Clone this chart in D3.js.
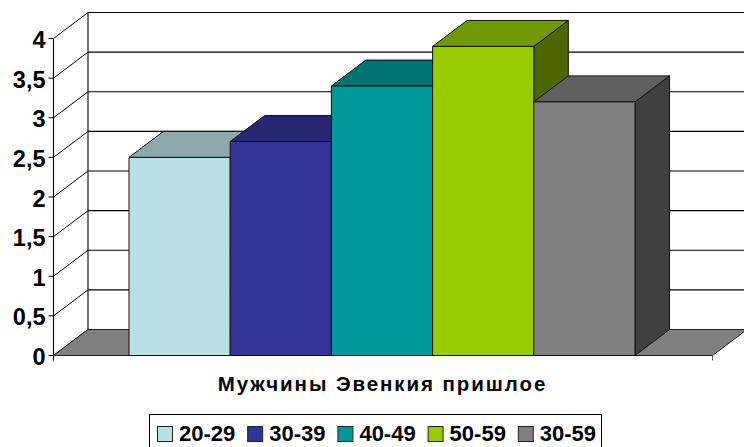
<!DOCTYPE html>
<html><head><meta charset="utf-8">
<script src="https://cdn.jsdelivr.net/npm/d3@7"></script>
<style>html,body{margin:0;padding:0;background:#fff;overflow:hidden}svg{display:block}
text{font-family:"Liberation Sans",Arial,sans-serif;font-weight:bold;fill:#000}</style>
</head><body><svg id="c" width="744" height="447"></svg>
<script>
const groups = ["20-29","30-39","40-49","50-59","30-59"];
const values = [2.5,2.7,3.4,3.9,3.2];
const faceColors = ["#BBE0E3","#333399","#009999","#99CC00","#808080"];
const topColors = ["#8FA8AA","#262673","#007373","#739900","#606060"];
const sideColors = ["#5E7071","#1A1A4D","#004D4D","#4D6600","#404040"];
const yTicks = [0,0.5,1,1.5,2,2.5,3,3.5,4];
const yLabels = ["0","0,5","1","1,5","2","2,5","3","3,5","4"];
const axisTitle = "Мужчины Эвенкия пришлое";

const svg = d3.select("#c");
const left=53.5, right=712.5, dx=34.5, dy=-26;
const y = d3.scaleLinear().domain([0,4]).range([355.5,38.5]);
const x = d3.scaleBand().domain(groups).range([129,635]);
const poly = pts => "M"+pts.map(p=>p.join(",")).join("L")+"Z";

// back wall and gridlines
yTicks.forEach(t=>{
  svg.append("line").attr("x1",left+dx).attr("x2",744).attr("y1",y(t)+dy).attr("y2",y(t)+dy)
    .attr("stroke","#000").attr("stroke-width",1.1);
  svg.append("line").attr("x1",left).attr("x2",left+dx).attr("y1",y(t)).attr("y2",y(t)+dy)
    .attr("stroke","#000").attr("stroke-width",1);
  svg.append("line").attr("x1",left-5).attr("x2",left).attr("y1",y(t)).attr("y2",y(t))
    .attr("stroke","#000").attr("stroke-width",1);
});
svg.append("line").attr("x1",left+dx).attr("x2",left+dx).attr("y1",y(4)+dy).attr("y2",y(0)+dy).attr("stroke","#000").attr("stroke-width",1.1);
// floor
svg.append("path").attr("d",poly([[left,y(0)],[left+dx,y(0)+dy],[right+dx,y(0)+dy],[right,y(0)]]))
  .attr("fill","#808080").attr("stroke","#222").attr("stroke-width",1);
// axes
svg.append("line").attr("x1",left).attr("x2",left).attr("y1",y(4)).attr("y2",y(0)+5).attr("stroke","#000").attr("stroke-width",1.1);
svg.append("line").attr("x1",left).attr("x2",right).attr("y1",y(0)).attr("y2",y(0)).attr("stroke","#222").attr("stroke-width",1.2);
svg.append("line").attr("x1",right).attr("x2",right).attr("y1",y(0)).attr("y2",y(0)+5).attr("stroke","#555").attr("stroke-width",1);

// bars
groups.forEach((g,i)=>{
  const x0=x(g), x1=x0+x.bandwidth(), yt=y(values[i]), yb=y(0);
  const bar=svg.append("g").attr("stroke","#111").attr("stroke-width",1).attr("stroke-linejoin","round");
  bar.append("path").attr("d",poly([[x1,yb],[x1+dx,yb+dy],[x1+dx,yt+dy],[x1,yt]])).attr("fill",sideColors[i]);
  bar.append("path").attr("d",poly([[x0,yt],[x0+dx,yt+dy],[x1+dx,yt+dy],[x1,yt]])).attr("fill",topColors[i]);
  bar.append("rect").attr("x",x0).attr("y",yt).attr("width",x1-x0).attr("height",yb-yt).attr("fill",faceColors[i]);
});

// y labels
yTicks.forEach((t,i)=>{
  svg.append("text").attr("x",45.5).attr("y",y(t)+9.5).attr("text-anchor","end")
    .attr("font-size",23.5).text(yLabels[i]);
});
// axis title
svg.append("text").attr("x",382.5).attr("y",391).attr("text-anchor","middle")
  .attr("font-size",20.5).attr("letter-spacing",1.92).text(axisTitle);

// legend
svg.append("rect").attr("x",149.5).attr("y",414.5).attr("width",452).attr("height",40)
  .attr("fill","#fff").attr("stroke","#000").attr("stroke-width",1);
const legendX = d3.scaleLinear().domain([0,groups.length]).range([157,608]);
groups.forEach((g,i)=>{
  const lx=legendX(i);
  svg.append("rect").attr("x",lx+0.5).attr("y",426.5).attr("width",15).attr("height",15)
    .attr("fill",faceColors[i]).attr("stroke","#222").attr("stroke-width",1);
  svg.append("text").attr("x",lx+22).attr("y",441).attr("font-size",22).text(g);
});
</script></body></html>
